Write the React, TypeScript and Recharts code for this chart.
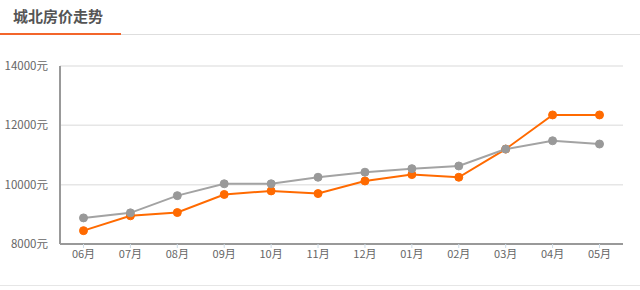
import React from 'react';
import { LineChart, Line, XAxis, YAxis, CartesianGrid } from 'recharts';

const months = ['06月', '07月', '08月', '09月', '10月', '11月', '12月', '01月', '02月', '03月', '04月', '05月'];
const cityPrice = [8880, 9050, 9630, 10030, 10030, 10250, 10420, 10540, 10630, 11200, 11480, 11370];
const northPrice = [8450, 8950, 9060, 9670, 9790, 9700, 10125, 10340, 10250, 11200, 12350, 12350];
const yTicks = [8000, 10000, 12000, 14000];

const data = months.map((m, i) => ({ month: m, city: cityPrice[i], north: northPrice[i] }));

const font = '"Noto Sans CJK SC", "Noto Sans", sans-serif';

const App: React.FC = () => {
  return (
    <div style={{ position: 'relative', width: 640, height: 290, background: '#fff', fontFamily: font }}>
      <style>{'body{margin:0}'}</style>
      <div style={{ position: 'absolute', left: 13, top: 5, fontSize: 15, fontWeight: 'bold', color: '#555', lineHeight: '22px' }}>
        城北房价走势
      </div>
      <div style={{ position: 'absolute', left: 0, top: 34, width: 640, height: 1, background: '#dedede' }} />
      <div style={{ position: 'absolute', left: 0, top: 33, width: 121, height: 2, background: '#f3652b' }} />
      <div style={{ position: 'absolute', left: 0, top: 285, width: 640, height: 1, background: '#e6e6e6' }} />
      <div style={{ position: 'absolute', left: 0, top: 0 }}>
        <LineChart width={640} height={290} data={data} margin={{ top: 66, right: 17, bottom: 16, left: 0 }}>
          <CartesianGrid vertical={false} stroke="#e6e6e6" strokeWidth={1.5} horizontalValues={[10000, 12000, 14000]} />
          <XAxis
            dataKey="month"
            padding={{ left: 23.5, right: 23.5 }}
            height={30}
            axisLine={{ stroke: '#999', strokeWidth: 2 }}
            tickLine={{ stroke: '#cfdde8' }}
            tickSize={4}
            tick={{ fontSize: 11, fill: '#666', fontFamily: font }}
            interval={0}
          />
          <YAxis
            width={60}
            domain={[8000, 14000]}
            ticks={yTicks}
            tickFormatter={(v) => `${v}元`}
            axisLine={{ stroke: '#999', strokeWidth: 2 }}
            tickLine={false}
            tickMargin={6}
            tick={{ fontSize: 11.5, fill: '#666', fontFamily: font }}
          />
          <Line
            type="linear"
            dataKey="north"
            stroke="#ff6a00"
            strokeWidth={2}
            dot={{ r: 4, fill: '#ff6a00', stroke: '#ff6a00', strokeWidth: 1 }}
            isAnimationActive={false}
          />
          <Line
            type="linear"
            dataKey="city"
            stroke="#a3a3a3"
            strokeWidth={2}
            dot={{ r: 4, fill: '#999', stroke: '#999', strokeWidth: 1 }}
            isAnimationActive={false}
          />
        </LineChart>
      </div>
    </div>
  );
};

export default App;
